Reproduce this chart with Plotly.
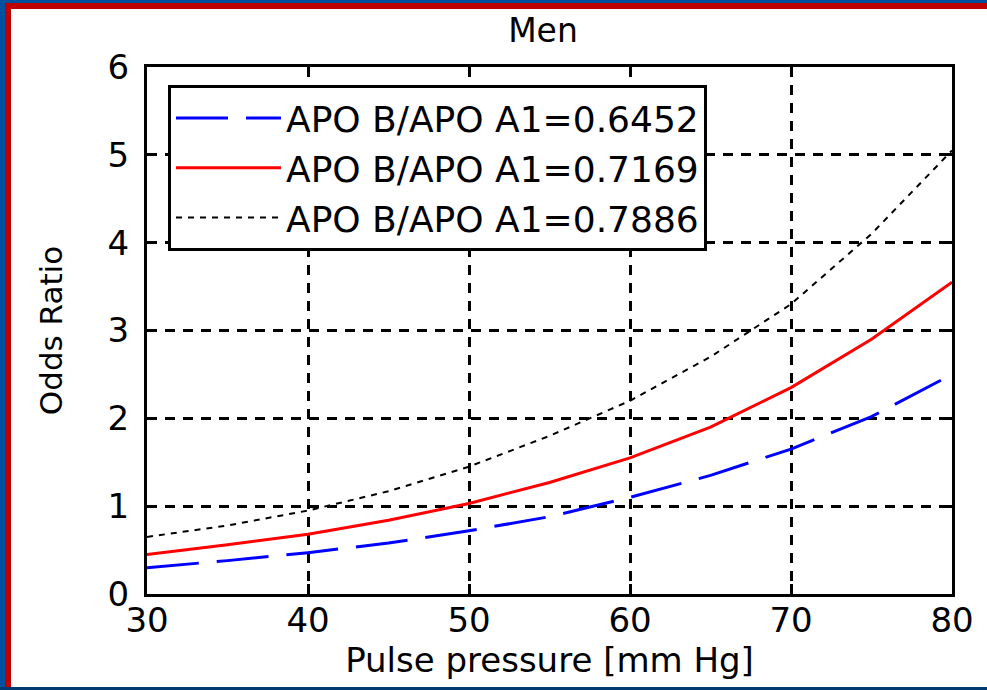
import plotly.graph_objects as go

pulse_pressure = [30, 35, 40, 45, 50, 55, 60, 65, 70, 75, 80]
or_06452 = [0.30, 0.38, 0.47, 0.58, 0.72, 0.88, 1.10, 1.35, 1.65, 2.02, 2.50]
or_07169 = [0.45, 0.56, 0.68, 0.84, 1.03, 1.27, 1.55, 1.90, 2.35, 2.90, 3.55]
or_07886 = [0.65, 0.78, 0.95, 1.17, 1.45, 1.80, 2.20, 2.70, 3.30, 4.10, 5.05]
names = ["APO B/APO A1=0.6452", "APO B/APO A1=0.7169", "APO B/APO A1=0.7886"]
x_ticks = [30, 40, 50, 60, 70, 80]
y_ticks = [0, 1, 2, 3, 4, 5, 6]

W, H = 987, 690
L, R, T, B = 147, 35, 67, 96
pw, ph = W - L - R, H - T - B
FONT = "DejaVu Sans, Arial"

def px(x):
    return (x - L) / pw

def py(y):
    return (H - B - y) / ph

fig = go.Figure()
fig.add_trace(go.Scatter(x=pulse_pressure, y=or_06452, mode="lines", name=names[0],
                         line=dict(color="#0000ff", width=3, dash="52px,18px")))
fig.add_trace(go.Scatter(x=pulse_pressure, y=or_07169, mode="lines", name=names[1],
                         line=dict(color="#ff0000", width=3)))
fig.add_trace(go.Scatter(x=pulse_pressure, y=or_07886, mode="lines", name=names[2],
                         line=dict(color="#000000", width=2, dash="6px,6px")))

axis_common = dict(
    showline=True, linecolor="black", linewidth=3, mirror="ticks",
    ticks="inside", ticklen=10, tickwidth=3, tickcolor="black",
    showgrid=True, gridcolor="black", gridwidth=3, griddash="10px,8px",
    zeroline=False,
    tickfont=dict(family=FONT, size=34, color="black"),
)

fig.update_xaxes(range=[30, 80], tickvals=x_ticks, ticklabelstandoff=-6,
                 title=dict(text="Pulse pressure [mm Hg]", standoff=2,
                            font=dict(family=FONT, size=34, color="black")),
                 **axis_common)
fig.update_yaxes(range=[0, 6], tickvals=y_ticks, ticklabelstandoff=8,
                 title=dict(text="Odds Ratio", standoff=36,
                            font=dict(family=FONT, size=31, color="black")),
                 **axis_common)

shapes = []
def rect(x0, y0, x1, y1, color):
    shapes.append(dict(type="rect", xref="paper", yref="paper",
                       x0=px(x0), x1=px(x1), y0=py(y1), y1=py(y0),
                       fillcolor=color, line=dict(width=0), layer="above"))

rect(0, 0, W, 3, "#0050a0")
rect(0, 0, 5, H, "#0050a0")
rect(5, 3, W, 9, "#c00000")
rect(5, 3, 11, H, "#c00000")
rect(0, H - 3, W, H, "#003a70")

fig.update_layout(
    width=W, height=H,
    margin=dict(l=L, r=R, t=T, b=B, autoexpand=False),
    paper_bgcolor="white", plot_bgcolor="white",
    title=dict(text="Men", x=543 / W, xanchor="center", y=1 - 30 / H, yanchor="middle",
               font=dict(family=FONT, size=33, color="black")),
    legend=dict(x=px(168), y=py(85), xanchor="left", yanchor="top",
                bgcolor="white", bordercolor="black", borderwidth=3,
                font=dict(family=FONT, size=36, color="black"),
                itemwidth=105, tracegroupgap=0),
    shapes=shapes,
    showlegend=True,
)

fig.write_html("out.html", config={"displayModeBar": False},
               post_script="document.body.style.margin='0';document.body.style.overflow='hidden';")
